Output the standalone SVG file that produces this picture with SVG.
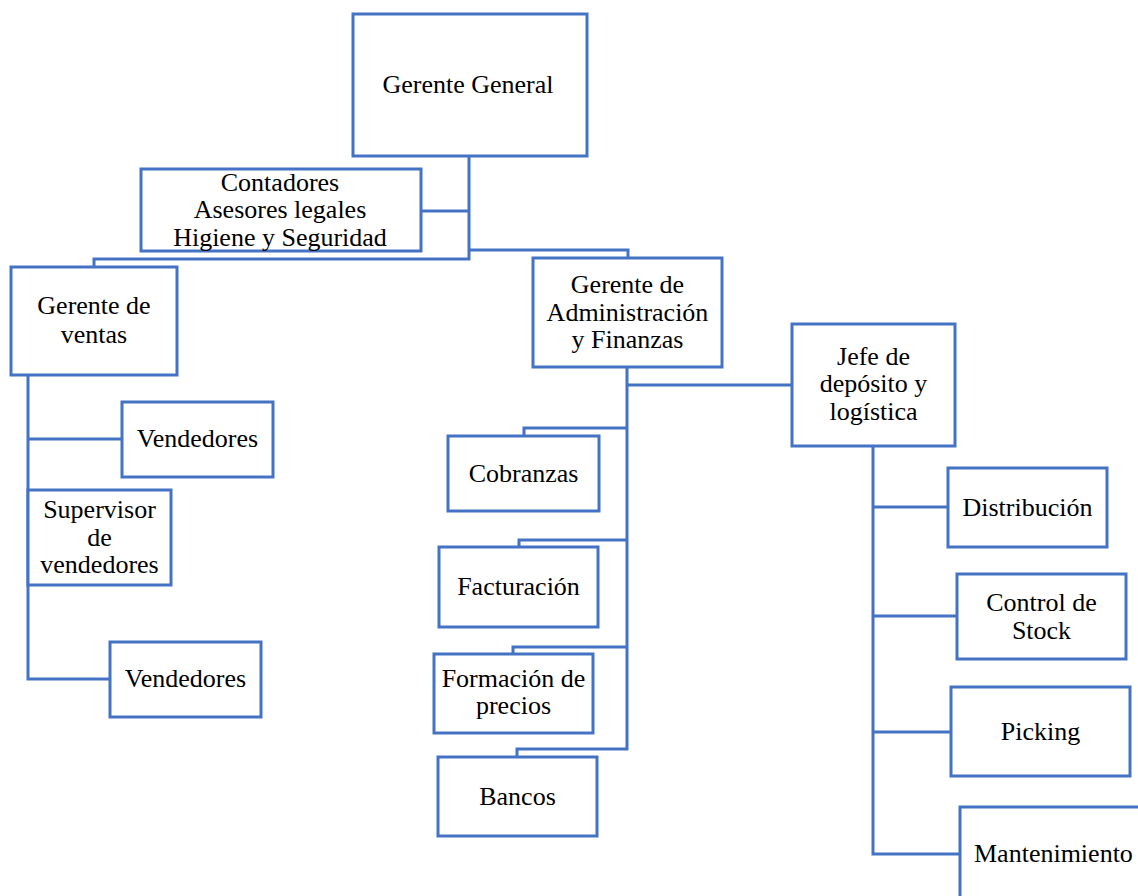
<svg xmlns="http://www.w3.org/2000/svg" width="1138" height="896" viewBox="0 0 1138 896">
<style>
.box{fill:#fff;stroke:#4472C4;stroke-width:3}
.ln{fill:none;stroke:#4472C4;stroke-width:3}
text{font-family:'Liberation Serif','Times New Roman',Tinos,'DejaVu Serif',serif;font-size:26px;fill:#000;text-anchor:middle}
</style>
<rect width="1138" height="896" fill="#fff"/>
<g id="connectors">
<path class="ln" d="M469,156 V259 H94 V267"/>
<path class="ln" d="M421,211 H469"/>
<path class="ln" d="M469,250 H628 V258"/>
<path class="ln" d="M28,375 V679 H110"/>
<path class="ln" d="M28,439 H122"/>
<path class="ln" d="M627,367 V749 H517 V757"/>
<path class="ln" d="M627,385 H792"/>
<path class="ln" d="M627,428 H524 V436"/>
<path class="ln" d="M627,540 H519 V547"/>
<path class="ln" d="M627,647 H513 V654"/>
<path class="ln" d="M873,446 V854 H960"/>
<path class="ln" d="M873,507 H948"/>
<path class="ln" d="M873,616 H957"/>
<path class="ln" d="M873,732 H951"/>
</g>
<g font-family="Liberation Serif, serif">
<g id="gerente-general"><rect class="box" x="353" y="14" width="234" height="142"/><text x="468" y="93">Gerente General</text></g>
<g id="contadores"><rect class="box" x="141" y="169" width="280" height="82"/><text x="280" y="191">Contadores</text><text x="280" y="218">Asesores legales</text><text x="280" y="246">Higiene y Seguridad</text></g>
<g id="gerente-ventas"><rect class="box" x="11" y="267" width="166" height="108"/><text x="94" y="314">Gerente de</text><text x="94" y="343">ventas</text></g>
<g id="vendedores-1"><rect class="box" x="122" y="402" width="151" height="75"/><text x="197.5" y="447">Vendedores</text></g>
<g id="supervisor"><rect class="box" x="28" y="490" width="143" height="95"/><text x="99.5" y="518">Supervisor</text><text x="99.5" y="546">de</text><text x="99.5" y="573">vendedores</text></g>
<g id="vendedores-2"><rect class="box" x="110" y="642" width="151" height="75"/><text x="185.5" y="687">Vendedores</text></g>
<g id="gerente-admin"><rect class="box" x="533" y="258" width="189" height="109"/><text x="627.5" y="293">Gerente de</text><text x="627.5" y="321">Administración</text><text x="627.5" y="348">y Finanzas</text></g>
<g id="cobranzas"><rect class="box" x="448" y="436" width="151" height="75"/><text x="523.5" y="482">Cobranzas</text></g>
<g id="facturacion"><rect class="box" x="439" y="547" width="159" height="80"/><text x="518.5" y="595">Facturación</text></g>
<g id="formacion-precios"><rect class="box" x="434" y="654" width="159" height="79"/><text x="513.5" y="687">Formación de</text><text x="513.5" y="714">precios</text></g>
<g id="bancos"><rect class="box" x="438" y="757" width="159" height="79"/><text x="517.5" y="805">Bancos</text></g>
<g id="jefe-deposito"><rect class="box" x="792" y="324" width="163" height="122"/><text x="873.5" y="365">Jefe de</text><text x="873.5" y="392">depósito y</text><text x="873.5" y="420">logística</text></g>
<g id="distribucion"><rect class="box" x="948" y="468" width="159" height="79"/><text x="1027.5" y="516">Distribución</text></g>
<g id="control-stock"><rect class="box" x="957" y="574" width="169" height="85"/><text x="1041.5" y="611">Control de</text><text x="1041.5" y="639">Stock</text></g>
<g id="picking"><rect class="box" x="951" y="687" width="179" height="89"/><text x="1040.5" y="740">Picking</text></g>
<g id="mantenimiento"><rect class="box" x="960" y="807" width="200" height="120"/><text x="974" y="862" style="text-anchor:start">Mantenimiento</text></g>
</g>
</svg>
